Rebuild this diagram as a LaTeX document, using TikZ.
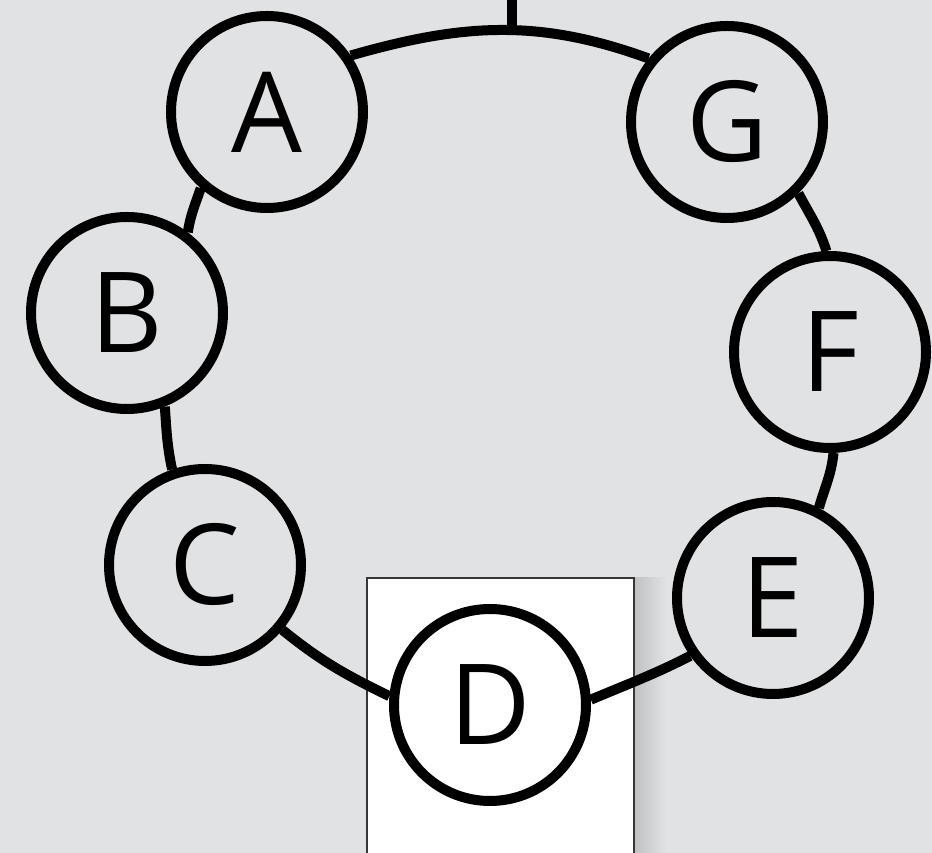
\documentclass[tikz,border=0pt]{standalone}
\usepackage{fontspec}
\setmainfont{Open Sans}
\definecolor{paper}{RGB}{225,226,228}
\definecolor{framegray}{RGB}{55,55,55}
\definecolor{shadowgray}{RGB}{192,193,195}
\begin{document}
\begin{tikzpicture}[x=1pt,y=1pt,
  station/.style={circle, draw=black, line width=10pt, minimum size=192pt,
    inner sep=0pt, font=\fontsize{112}{112}\selectfont},
  link/.style={draw=black, line width=10pt}]
  % canvas
  \fill[paper] (0,0) rectangle (932,853);
  \useasboundingbox (0,0) rectangle (932,853);

  % highlighted panel behind D, with a soft shadow on its right side
  \shade[left color=shadowgray, right color=paper] (634,0) rectangle (666,275);
  \fill[white] (367,0) rectangle (634,275);
  \draw[framegray, line width=1.2pt] (367,-2) -- (367,275) -- (634,275) -- (634,-2);

  % ring stations
  \node[station] (A) at (267,741) {A};
  \node[station] (G) at (727,731) {G};
  \node[station] (B) at (127,540) {B};
  \node[station] (F) at (830,501) {F};
  \node[station] (C) at (205,288) {C};
  \node[station] (E) at (773,255) {E};
  \node[station] (D) at (490,148) {D};

  % ring links
  \draw[link] (A.34) to[out=16,in=160] node[coordinate,pos=0.54] (top) {} (G.141);
  \draw[link] (G.-45) to[out=-62,in=108] (F.92);
  \draw[link] (F.-88) to[out=-96,in=74] (E.63);
  \draw[link] (E.215) to[out=207,in=23] (D.3);
  \draw[link] (D.175) to[out=154,in=-39] (C.-40);
  \draw[link] (C.109) to[out=102,in=-86] (B.-68);
  \draw[link] (B.53) to[out=81,in=251] (A.229);

  % feeder line leaving the ring at the top
  \coordinate (edge) at (0,853);
  \draw[link] (top) -- (top |- edge);
\end{tikzpicture}
\end{document}
